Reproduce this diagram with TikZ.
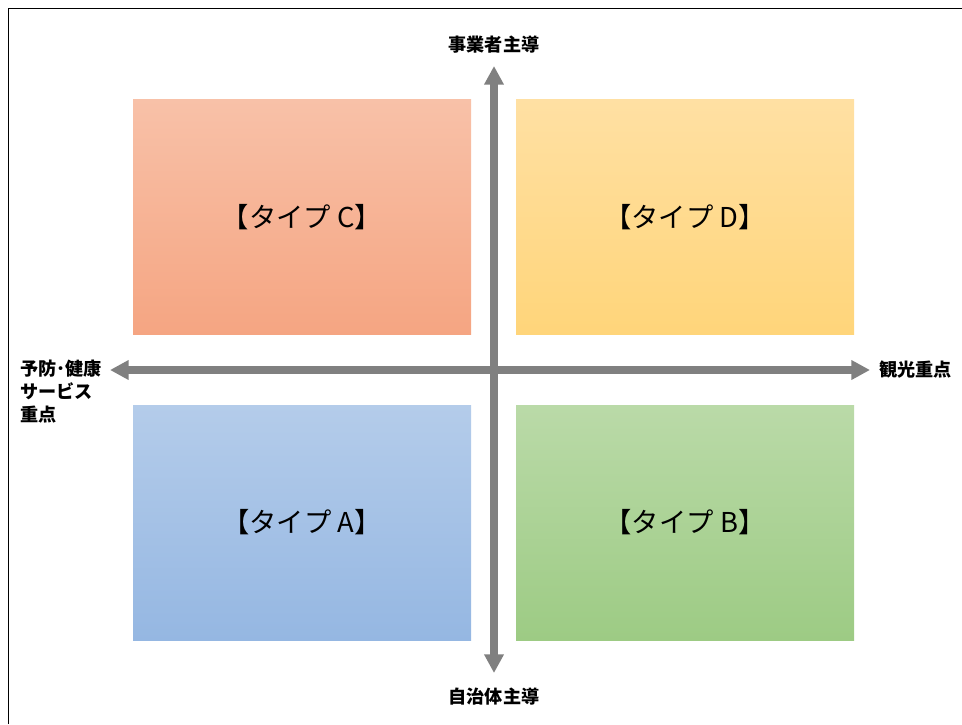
\documentclass[tikz,border=0pt]{standalone}
\usepackage{fontspec}
\setmainfont{Noto Sans CJK JP}
\usetikzlibrary{arrows.meta}
\definecolor{axisgray}{HTML}{808080}
\definecolor{cTop}{HTML}{F8C1A8}\definecolor{cBot}{HTML}{F5A582}
\definecolor{dTop}{HTML}{FFE0A3}\definecolor{dBot}{HTML}{FFD57A}
\definecolor{aTop}{HTML}{B4CCEA}\definecolor{aBot}{HTML}{95B7E2}
\definecolor{bTop}{HTML}{BADAA8}\definecolor{bBot}{HTML}{9DCB84}
\begin{document}
\begin{tikzpicture}[x=0.75pt,y=-0.75pt,
  quad/.style={draw=none,minimum width=338*0.75pt,minimum height=235*0.75pt,inner sep=0pt,font=\fontsize{20.5}{24}\selectfont},
  lbl/.style={font=\fontsize{13.6}{17.3}\selectfont\bfseries,inner sep=0pt},
  axis/.style={draw=axisgray,line width=5.5pt,{Triangle[length=14pt,width=14pt]}-{Triangle[length=14pt,width=14pt]}}]
\useasboundingbox (0,0) rectangle (962,724);
\draw[line width=1.2pt] (8.5,724) -- (8.5,8.5) -- (962,8.5);
% quadrants
\node[quad,top color=cTop,bottom color=cBot] (C) at (302,217) {【タイプ C】};
\node[quad,top color=dTop,bottom color=dBot] (D) at (685,217) {【タイプ D】};
\node[quad,top color=aTop,bottom color=aBot] (A) at (302,522.5) {【タイプ A】};
\node[quad,top color=bTop,bottom color=bBot] (B) at (685,522.5) {【タイプ B】};
% axis endpoints
\coordinate (ytop) at (494,66);
\coordinate (ybot) at (494,673);
\coordinate (xleft) at (110,370);
\coordinate (xright) at (870,370);
\draw[axis] (ybot) -- (ytop);
\draw[axis] (xleft) -- (xright);
% labels
\node[lbl] (top) at (494,45) {事業者主導};
\node[lbl] (bot) at (494,697) {自治体主導};
\node[lbl,anchor=west] (right) at (879,370) {観光重点};
\node[lbl,anchor=north west,align=left] (left) at (20,360) {予防･健康\\サービス\\重点};
\end{tikzpicture}
\end{document}
